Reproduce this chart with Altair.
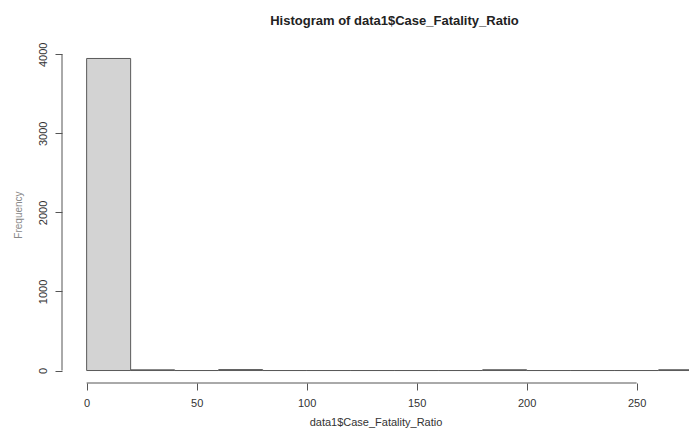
import altair as alt
import pandas as pd

# Histogram bins (left edge, right edge) and counts
bin_start = [0, 20, 40, 60, 80, 100, 120, 140, 160, 180, 200, 220, 240, 260]
bin_end = [20, 40, 60, 80, 100, 120, 140, 160, 180, 200, 220, 240, 260, 280]
counts = [3947, 9, 0, 12, 0, 0, 0, 0, 0, 10, 0, 0, 0, 10]

x_ticks = [0, 50, 100, 150, 200, 250]
y_ticks = [0, 1000, 2000, 3000, 4000]

bars_df = pd.DataFrame({"start": bin_start, "end": bin_end, "count": counts})
xaxis_df = pd.DataFrame({"a": [x_ticks[0]], "b": [x_ticks[-1]]})
yaxis_df = pd.DataFrame({"a": [y_ticks[0]], "b": [y_ticks[-1]]})

W, H = 627, 337
FONT = "Liberation Sans"
xscale = alt.Scale(domain=[-11.2, 273.8], nice=False, zero=False)
yscale = alt.Scale(domain=[-157.9, 4104.9], nice=False, zero=False)

bars = alt.Chart(bars_df).mark_rect(
    fill="#d3d3d3", stroke="#5a5a5a", strokeWidth=1, clip=True
).encode(
    x=alt.X("start:Q", scale=xscale, axis=alt.Axis(
        values=x_ticks, format="d", domain=False, grid=False, tickSize=7,
        tickColor="#555555", labelColor="#333333", labelFontSize=11,
        labelFont=FONT, labelPadding=7,
        title="data1$Case_Fatality_Ratio", titleFont=FONT, titleFontSize=11,
        titleFontWeight="normal", titleColor="#333333", titlePadding=8)),
    x2="end:Q",
    y=alt.Y("count:Q", scale=yscale, axis=alt.Axis(
        values=y_ticks, format="d", domain=False, grid=False, tickSize=7,
        tickColor="#555555", labelColor="#333333", labelFontSize=11,
        labelFont=FONT, labelAngle=-90, labelPadding=7,
        title="Frequency", titleFont=FONT, titleFontSize=10,
        titleFontWeight="normal", titleColor="#888888", titlePadding=14)),
    y2=alt.Y2(datum=0),
)

xline = alt.Chart(xaxis_df).mark_rule(color="#555555", strokeWidth=1).encode(
    x=alt.X("a:Q", scale=xscale), x2="b:Q", y=alt.value(H)
)
yline = alt.Chart(yaxis_df).mark_rule(color="#555555", strokeWidth=1).encode(
    y=alt.Y("a:Q", scale=yscale), y2="b:Q", x=alt.value(0)
)

chart = alt.layer(bars, xline, yline).properties(
    width=W, height=H,
    background="white",
    title=alt.TitleParams(
        "Histogram of data1$Case_Fatality_Ratio", font=FONT, fontSize=13,
        fontWeight="bold", color="#222222", anchor="middle", dx=19, offset=14),
    autosize=alt.AutoSizeParams(type="none"),
    padding={"left": 54, "top": 38, "right": 0, "bottom": 45},
).configure_view(stroke="transparent", strokeWidth=0)

chart.save("out.html", embed_options={"renderer": "svg", "actions": False})
